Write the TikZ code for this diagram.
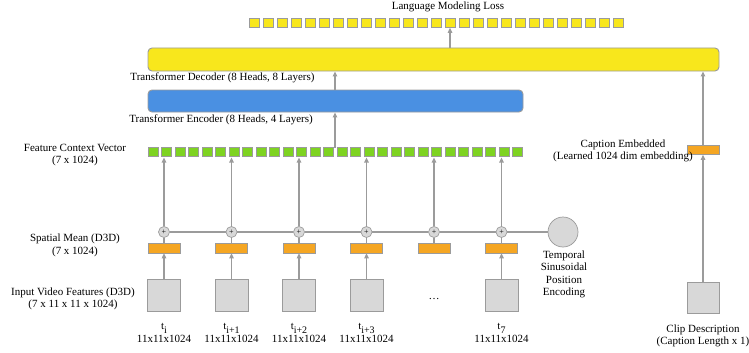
\documentclass[tikz,border=0pt]{standalone}
\usepackage{fontspec}
\setmainfont{Liberation Serif}
\usetikzlibrary{arrows.meta}
\definecolor{lineg}{HTML}{9B9B9B}
\definecolor{boxg}{HTML}{D8D8D8}
\definecolor{yel}{HTML}{F8E71C}
\definecolor{blu}{HTML}{4A90E2}
\definecolor{grn}{HTML}{7ED321}
\definecolor{org}{HTML}{F5A623}
\tikzset{
  arr/.style={draw=lineg, line width=1.1pt, -{Triangle[length=5pt,width=4.5pt]}},
  ln/.style={draw=lineg, line width=1.1pt},
  bar/.style={draw=lineg, line width=0.9pt, rounded corners=4pt, inner sep=0pt},
  sq/.style={draw=lineg, line width=0.7pt, inner sep=0pt, minimum width=10pt, minimum height=9pt},
  obox/.style={draw=lineg, line width=0.7pt, fill=org, inner sep=0pt, minimum width=32pt, minimum height=10pt},
  gbox/.style={draw=lineg, line width=0.7pt, fill=boxg, inner sep=0pt, minimum width=33pt, minimum height=32pt},
  pls/.style={circle, draw=lineg, line width=0.7pt, fill=boxg, inner sep=0pt, minimum size=11pt, font=\fontsize{8}{8}\selectfont},
  lbl/.style={font=\fontsize{11}{12.5}\selectfont, align=center, inner sep=0pt},
}
\begin{document}
\begin{tikzpicture}[x=1pt,y=-1pt]
\useasboundingbox (0,0) rectangle (749,353);
% yellow output squares
\foreach \k in {1,...,27}{
  \node[sq, fill=yel] (y\k) at ({249+(\k-1)*14+5},23) {};
}
\node[lbl] (lml) at (448,7) {Language Modeling Loss};
% decoder / encoder
\node[bar, fill=yel, minimum width=571pt, minimum height=23pt] (dec) at (433.5,59.5) {};
\node[bar, fill=blu, minimum width=375pt, minimum height=22pt] (enc) at (335.5,101) {};
\node[lbl] (decl) at (222.5,78) {Transformer Decoder (8 Heads, 8 Layers)};
\node[lbl] (encl) at (221,120) {Transformer Encoder (8 Heads, 4 Layers)};
% green feature squares
\foreach \k in {1,...,28}{
  \node[sq, fill=grn] (g\k) at ({148+(\k-1)*13.5+5},152) {};
}
\coordinate (gtop) at (335,147.5);
\coordinate (gbot) at (335,157.5);
\node[lbl] (fcl) at (75,155) {Feature Context Vector\\(7 x 1024)};
% caption side
\node[obox, minimum height=9pt] (cap) at (703,150) {};
\node[gbox, minimum width=32pt, minimum height=31pt] (clip) at (703,297.5) {};
\node[lbl] (capl) at (623,151) {Caption Embedded\\(Learned 1024 dim embedding)};
\node[lbl] (clipl) at (703,336) {Clip Description\\(Caption Length x 1)};
% temporal columns
\foreach \k/\x in {1/164,2/231.5,3/299,4/366.5,5/434,6/501.5}{
  \node[pls] (c\k) at (\x,232) {+};
  \node[obox] (o\k) at (\x,248) {};
  \draw[ln] (o\k) -- (c\k);
  \draw[arr] (c\k) -- (c\k |- gbot);
}
\foreach \k/\x in {1/164,2/231.5,3/299,4/366.5,6/501.5}{
  \node[gbox] (b\k) at (\x,295) {};
  \draw[arr] (b\k) -- (o\k);
}
\node[lbl] (dots) at (434,299) {\dots};
\node[circle, draw=lineg, line width=0.7pt, fill=boxg, minimum size=30pt, inner sep=0pt] (pe) at (563,232) {};
\draw[ln] (c1) -- (c2);
\draw[ln] (c2) -- (c3);
\draw[ln] (c3) -- (c4);
\draw[ln] (c4) -- (c5);
\draw[ln] (c5) -- (c6);
\draw[ln] (c6) -- (pe);
\node[lbl, font=\fontsize{11}{12.3}\selectfont] (pel) at (564,274.5) {Temporal\\Sinusoidal\\Position\\Encoding};
% time labels
\foreach \k/\x/\s in {1/164/i,2/231.5/i+1,3/299/i+2,4/366.5/i+3,6/501.5/7}{
  \node[lbl] (t\k) at (\x,333) {t\raisebox{-4pt}{\fontsize{10}{10}\selectfont\s}\\[1pt]11x11x1024};
}
% left labels
\node[lbl] (sml) at (75,245.5) {Spatial Mean (D3D)\\(7 x 1024)};
\node[lbl] (ivl) at (73,299) {Input Video Features (D3D)\\(7 x 11 x 11 x 1024)};
% arrows between blocks
\draw[arr] (gtop) -- (enc.south -| gtop);
\draw[arr] (enc.north -| gtop) -- (dec.south -| gtop);
\draw[arr] (dec.north -| y15) -- (y15.south);
\draw[arr] (clip) -- (cap);
\draw[arr] (cap) -- (cap |- dec.south);
\end{tikzpicture}
\end{document}
